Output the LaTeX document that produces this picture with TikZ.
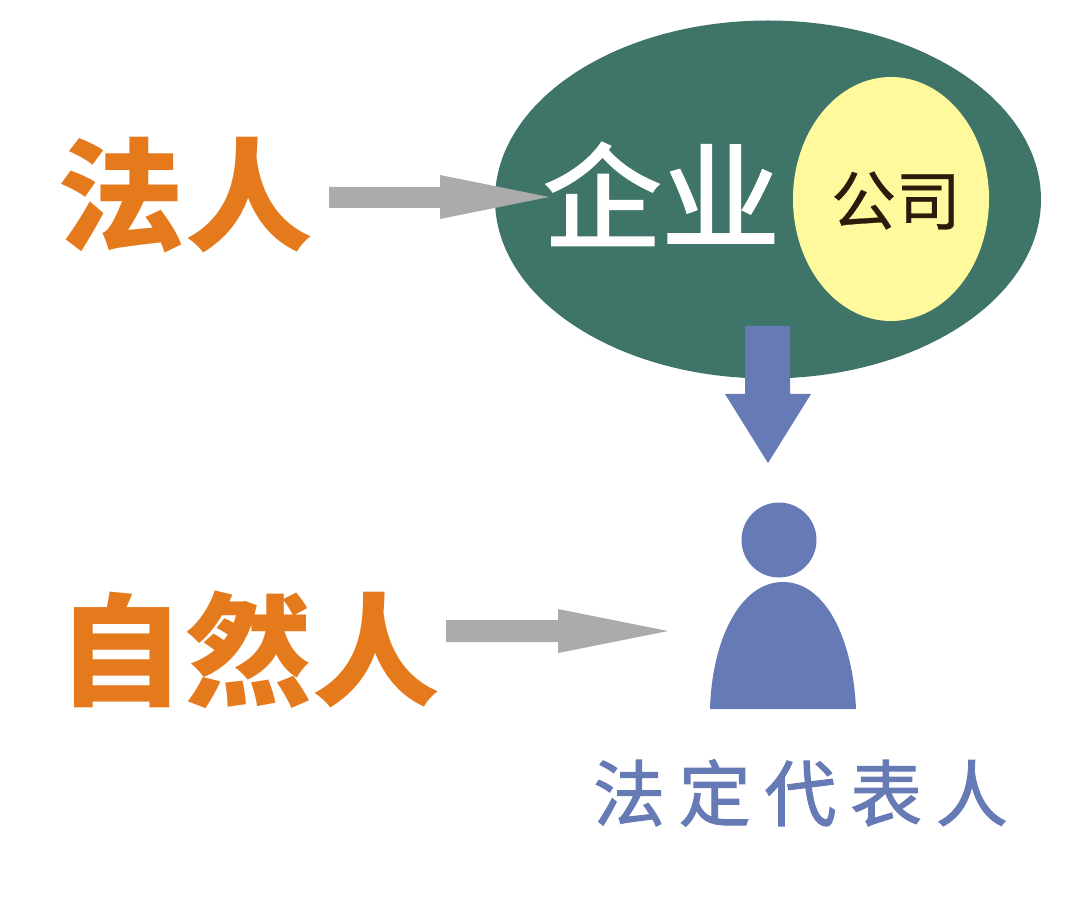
\documentclass[tikz,border=0pt]{standalone}
\usepackage{fontspec}
\usetikzlibrary{shapes.geometric}
\newfontfamily\cjk{Noto Sans CJK SC}
\definecolor{orangeT}{HTML}{E57A1C}
\definecolor{greenE}{HTML}{3F7568}
\definecolor{yellowE}{HTML}{FEF99C}
\definecolor{blueP}{HTML}{667BB5}
\definecolor{greyA}{HTML}{ABABAB}
\definecolor{darkT}{HTML}{2B1B0A}
\tikzset{
 big/.style={text=orangeT,font=\cjk\bfseries\fontsize{122}{122}\selectfont,inner sep=0pt,anchor=center},
 greyarrow/.style={fill=greyA,draw=none},
 bluefill/.style={fill=blueP,draw=none},
}
\begin{document}
\begin{tikzpicture}[x=1pt,y=-1pt]
\useasboundingbox (0,0) rectangle (1080,909);
\fill[white] (0,0) rectangle (1080,909);
\node[big] (faren) at (185,195.5) {\addfontfeature{FakeStretch=1.045}法人};
\node[big] (ziran) at (249,650) {\addfontfeature{FakeStretch=1.045}自然人};
\node[ellipse,draw=none,fill=greenE,minimum width=546pt,minimum height=358pt,inner sep=0pt] at (768,199.5) (qiye) {};
\node[ellipse,draw=none,fill=yellowE,minimum width=196pt,minimum height=244pt,inner sep=0pt] at (891,199) (gongsi) {};
\node[text=white,font=\cjk\fontsize{114}{114}\selectfont,inner sep=0pt] (qy) at (661.5,194) {\addfontfeature{FakeStretch=1.04,FakeBold=2}企业};
\node[text=darkT,font=\cjk\fontsize{65}{65}\selectfont,inner sep=0pt] (gs) at (896,200.5) {\addfontfeature{FakeBold=0.4}公司};
\fill[greyarrow] (329,187)--(440,187)--(440,175)--(549,197)--(440,219)--(440,208)--(329,208)--cycle;
\fill[greyarrow] (446,620)--(558,620)--(558,609)--(668,631)--(558,653)--(558,642)--(446,642)--cycle;
\fill[bluefill] (745,326)--(790,326)--(790,394)--(811,394)--(768,463)--(725,394)--(745,394)--cycle;
\node[circle,fill=blueP,minimum size=75pt,inner sep=0pt] (head) at (779,540) {};
\fill[bluefill] (710,709) .. controls (712,640) and (740,582) .. (783,582) .. controls (826,582) and (853,640) .. (856,709) -- cycle;
\node[text=blueP,font=\cjk\fontsize{72}{72}\selectfont,inner sep=0pt] (fd) at (800.5,793) {\addfontfeature{LetterSpace=19,FakeBold=1.5}法定代表人};
\end{tikzpicture}
\end{document}
